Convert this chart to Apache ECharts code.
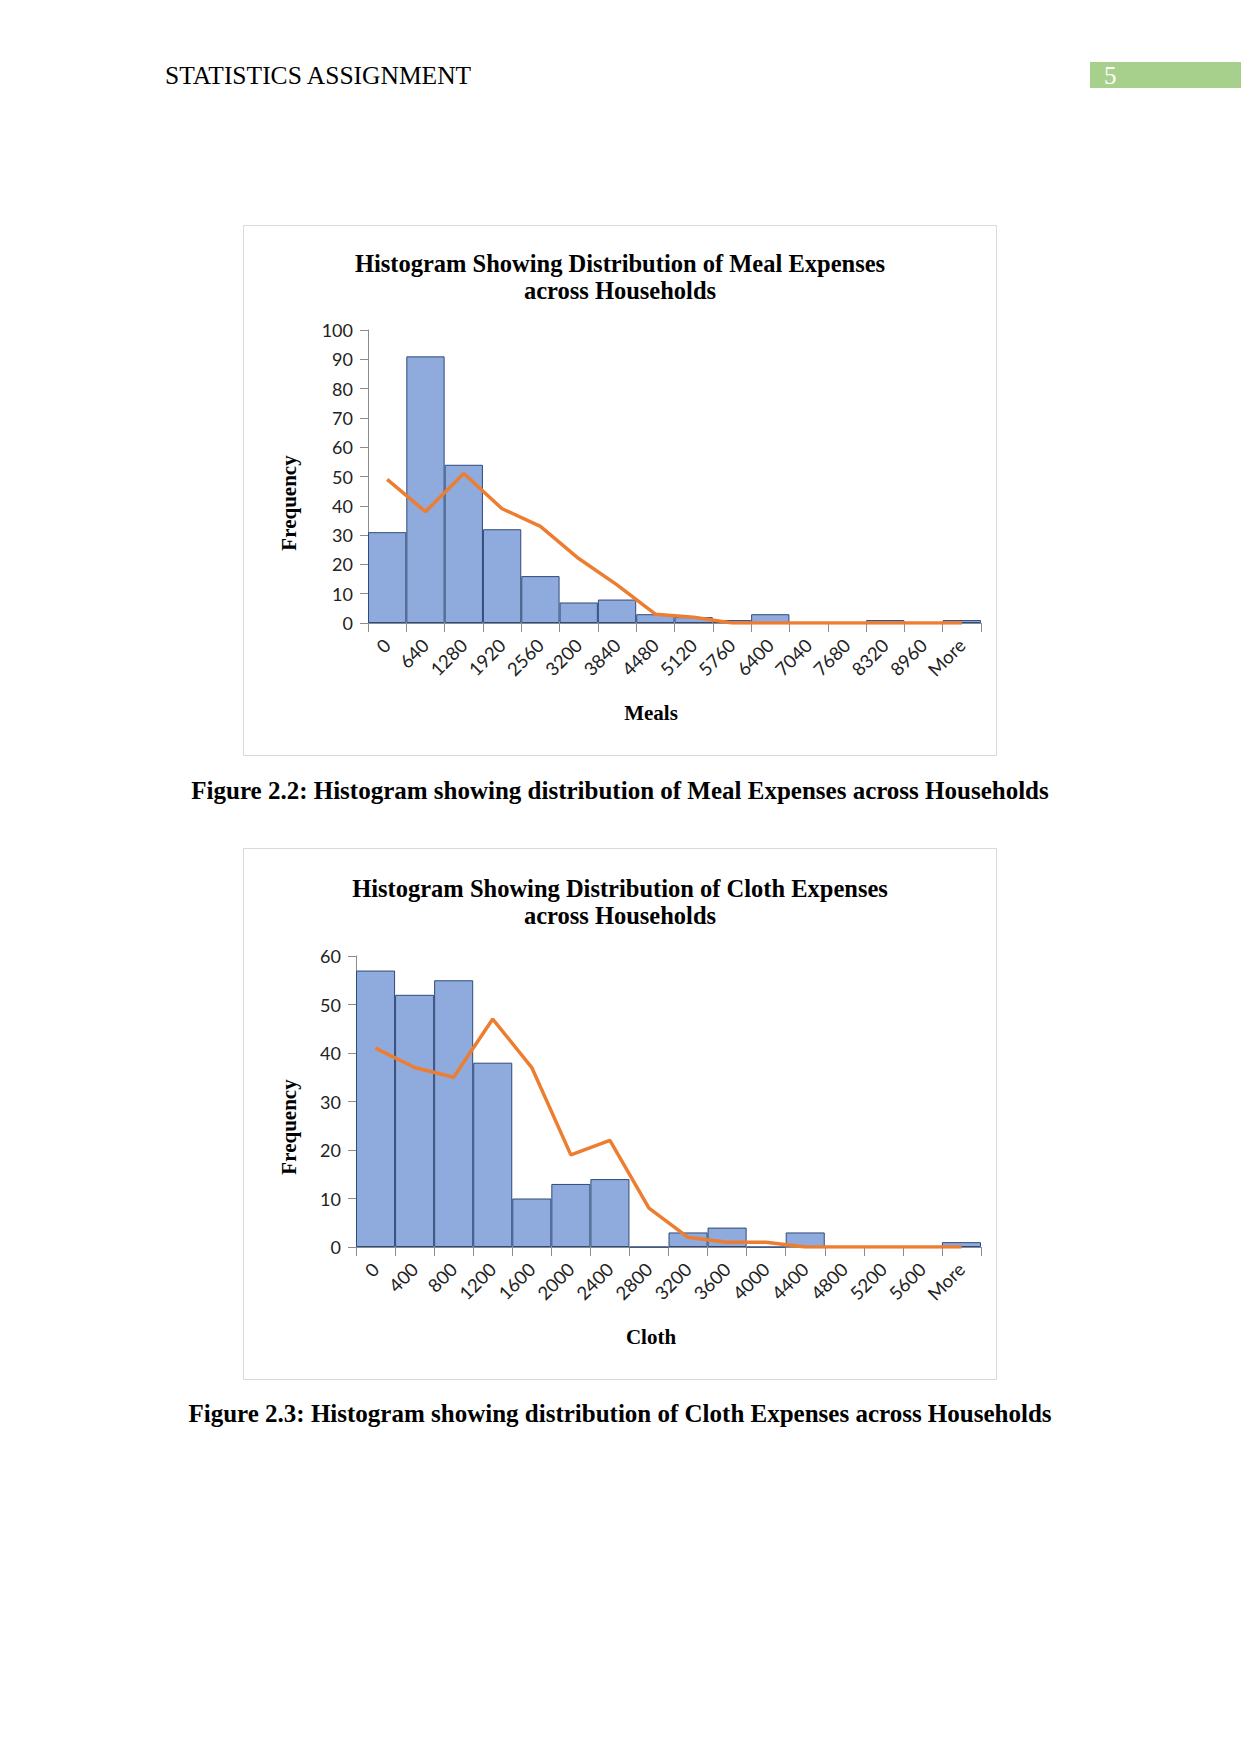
<!DOCTYPE html>
<html>
<head>
<meta charset="utf-8">
<script src="https://cdn.jsdelivr.net/npm/echarts@6/dist/echarts.min.js"></script>
<style>
html,body{margin:0;padding:0;background:#fff;}
#c{width:1241px;height:1754px;}
</style>
</head>
<body>
<div id="c"></div>
<script>
// ---- data ----
const mealBins = ['0','640','1280','1920','2560','3200','3840','4480','5120','5760','6400','7040','7680','8320','8960','More'];
const mealFreq = [31, 91, 54, 32, 16, 7, 8, 3, 2, 1, 3, 0, 0, 1, 0, 1];
const mealLine = [49, 38, 51, 39, 33, 22, 13, 3, 2, 0, 0, 0, 0, 0, 0, 0];

const clothBins = ['0','400','800','1200','1600','2000','2400','2800','3200','3600','4000','4400','4800','5200','5600','More'];
const clothFreq = [57, 52, 55, 38, 10, 13, 14, 0, 3, 4, 0, 3, 0, 0, 0, 1];
const clothLine = [41, 37, 35, 47, 37, 19, 22, 8, 2, 1, 1, 0, 0, 0, 0, 0];

const yTicksMeal = {min: 0, max: 100, interval: 10};
const yTicksCloth = {min: 0, max: 60, interval: 10};

const chart = echarts.init(document.getElementById('c'), null, {renderer: 'svg'});

const serif = '"Liberation Serif", "DejaVu Serif", serif';
const sans = 'Lato, Carlito, "Liberation Sans", sans-serif';
const barColor = '#8FAADC';
const barBorder = '#2F4A7A';
const lineColor = '#ED7D31';
const axisColor = '#8C8C8C';

function xAxisCfg(gi, cats) {
  return {
    type: 'category', gridIndex: gi, data: cats, boundaryGap: true,
    axisLine: {show: true, lineStyle: {color: axisColor, width: 1}},
    axisTick: {show: true, alignWithLabel: false, length: 9, lineStyle: {color: axisColor}},
    axisLabel: {rotate: 45, margin: 19, fontFamily: sans, fontSize: 18.5, color: '#222', interval: 0}
  };
}
function yAxisCfg(gi, t) {
  return {
    type: 'value', gridIndex: gi, min: t.min, max: t.max, interval: t.interval,
    axisLine: {show: true, lineStyle: {color: axisColor, width: 1}},
    axisTick: {show: true, length: 8, lineStyle: {color: axisColor}},
    splitLine: {show: false},
    axisLabel: {fontFamily: sans, fontSize: 18, color: '#222', margin: 15}
  };
}
const titleStyle = {fontFamily: serif, fontWeight: 'bold', fontSize: 24.5, lineHeight: 27, color: '#000'};
const nameFont = 'bold 21px ' + serif;

const option = {
  animation: false,
  backgroundColor: '#fff',
  title: [
    {text: 'Histogram Showing Distribution of Meal Expenses\nacross Households', left: 615, top: 245, textAlign: 'center', textStyle: titleStyle},
    {text: 'Histogram Showing Distribution of Cloth Expenses\nacross Households', left: 615, top: 870, textAlign: 'center', textStyle: titleStyle}
  ],
  grid: [
    {left: 368, top: 330, width: 613, height: 293, containLabel: false},
    {left: 356, top: 956, width: 625, height: 291, containLabel: false}
  ],
  xAxis: [xAxisCfg(0, mealBins), xAxisCfg(1, clothBins)],
  yAxis: [yAxisCfg(0, yTicksMeal), yAxisCfg(1, yTicksCloth)],
  series: [
    {type: 'bar', xAxisIndex: 0, yAxisIndex: 0, data: mealFreq, barCategoryGap: '0%',
     itemStyle: {color: barColor, borderColor: barBorder, borderWidth: 1}},
    {type: 'line', xAxisIndex: 0, yAxisIndex: 0, data: mealLine, symbol: 'none',
     lineStyle: {color: lineColor, width: 3.5}},
    {type: 'bar', xAxisIndex: 1, yAxisIndex: 1, data: clothFreq, barCategoryGap: '0%',
     itemStyle: {color: barColor, borderColor: barBorder, borderWidth: 1}},
    {type: 'line', xAxisIndex: 1, yAxisIndex: 1, data: clothLine, symbol: 'none',
     lineStyle: {color: lineColor, width: 3.5}}
  ],
  graphic: [
    {type: 'text', x: 165, y: 75, style: {text: 'STATISTICS ASSIGNMENT', font: '25.5px ' + serif, fill: '#000', textVerticalAlign: 'middle'}},
    {type: 'rect', shape: {x: 1090, y: 62, width: 151, height: 26}, style: {fill: '#A8D08D'}},
    {type: 'text', x: 1104, y: 75, style: {text: '5', font: '25px ' + serif, fill: '#fff', textVerticalAlign: 'middle'}},
    {type: 'rect', shape: {x: 243.5, y: 225.5, width: 753, height: 530}, style: {fill: 'none', stroke: '#D9D9D9', lineWidth: 1}, z: -1},
    {type: 'rect', shape: {x: 243.5, y: 848.5, width: 753, height: 531}, style: {fill: 'none', stroke: '#D9D9D9', lineWidth: 1}, z: -1},
    // axis titles
    {type: 'text', x: 289, y: 503, rotation: Math.PI / 2,
     style: {text: 'Frequency', font: nameFont, fill: '#000', textAlign: 'center', textVerticalAlign: 'middle'}},
    {type: 'text', x: 651, y: 713,
     style: {text: 'Meals', font: nameFont, fill: '#000', textAlign: 'center', textVerticalAlign: 'middle'}},
    {type: 'text', x: 289, y: 1127, rotation: Math.PI / 2,
     style: {text: 'Frequency', font: nameFont, fill: '#000', textAlign: 'center', textVerticalAlign: 'middle'}},
    {type: 'text', x: 651, y: 1337,
     style: {text: 'Cloth', font: nameFont, fill: '#000', textAlign: 'center', textVerticalAlign: 'middle'}},
    // captions
    {type: 'text', x: 620, y: 790, style: {text: 'Figure 2.2: Histogram showing distribution of Meal Expenses across Households',
      font: 'bold 25px ' + serif, fill: '#000', textAlign: 'center', textVerticalAlign: 'middle'}},
    {type: 'text', x: 620, y: 1413, style: {text: 'Figure 2.3: Histogram showing distribution of Cloth Expenses across Households',
      font: 'bold 25px ' + serif, fill: '#000', textAlign: 'center', textVerticalAlign: 'middle'}}
  ]
};
chart.setOption(option);
</script>
</body>
</html>
